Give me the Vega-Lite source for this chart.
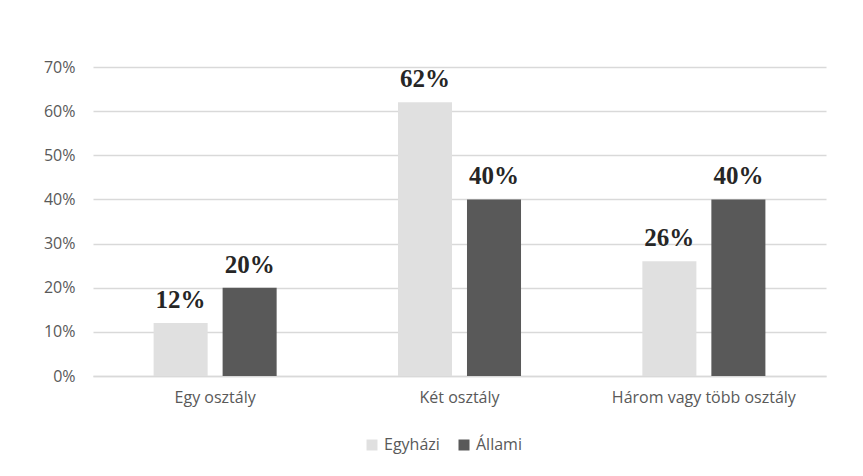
{
  "$schema": "https://vega.github.io/schema/vega-lite/v6.json",
  "autosize": {"type": "none"},
  "width": 733,
  "height": 309,
  "padding": {"left": 93, "top": 67, "right": 37, "bottom": 100},
  "background": "white",
  "data": {
    "values": [
      {"kategoria": "Egy osztály", "tipus": "Egyházi", "arany": 0.12},
      {"kategoria": "Egy osztály", "tipus": "Állami", "arany": 0.20},
      {"kategoria": "Két osztály", "tipus": "Egyházi", "arany": 0.62},
      {"kategoria": "Két osztály", "tipus": "Állami", "arany": 0.40},
      {"kategoria": "Három vagy több osztály", "tipus": "Egyházi", "arany": 0.26},
      {"kategoria": "Három vagy több osztály", "tipus": "Állami", "arany": 0.40}
    ]
  },
  "encoding": {
    "x": {
      "field": "kategoria",
      "type": "nominal",
      "sort": ["Egy osztály", "Két osztály", "Három vagy több osztály"],
      "scale": {"paddingInner": 0.4965, "paddingOuter": 0.248},
      "axis": {
        "title": null,
        "labelAngle": 0,
        "labelPadding": 13,
        "labelLimit": 400,
        "ticks": false,
        "domain": true,
        "domainColor": "#d9d9d9",
        "domainWidth": 1.5
      }
    },
    "xOffset": {
      "field": "tipus",
      "type": "nominal",
      "sort": ["Egyházi", "Állami"],
      "scale": {"paddingInner": 0.217, "paddingOuter": 0}
    },
    "y": {
      "field": "arany",
      "type": "quantitative",
      "scale": {"domain": [0, 0.7], "nice": false},
      "axis": {
        "title": null,
        "format": ".0%",
        "values": [0, 0.1, 0.2, 0.3, 0.4, 0.5, 0.6, 0.7],
        "labelOverlap": false,
        "labelPadding": 18,
        "ticks": false,
        "domain": false,
        "grid": true,
        "gridColor": "#d9d9d9",
        "gridWidth": 1.5
      }
    }
  },
  "layer": [
    {
      "mark": {"type": "bar"},
      "encoding": {
        "color": {
          "field": "tipus",
          "type": "nominal",
          "sort": ["Egyházi", "Állami"],
          "scale": {"domain": ["Egyházi", "Állami"], "range": ["#e0e0e0", "#595959"]},
          "legend": {
            "title": null,
            "orient": "none",
            "legendX": 271,
            "legendY": 370,
            "direction": "horizontal",
            "symbolType": "square",
            "symbolSize": 121,
            "symbolStrokeWidth": 0,
            "columnPadding": 16
          }
        }
      }
    },
    {
      "mark": {
        "type": "text",
        "font": "Liberation Serif",
        "fontWeight": "bold",
        "fontSize": 25,
        "color": "#262626",
        "baseline": "alphabetic",
        "dy": -15
      },
      "encoding": {
        "text": {"field": "arany", "type": "quantitative", "format": ".0%"}
      }
    }
  ],
  "config": {
    "view": {"stroke": null},
    "axis": {
      "labelFont": "Open Sans",
      "labelFontSize": 16,
      "labelColor": "#595959"
    },
    "legend": {
      "labelFont": "Open Sans",
      "labelFontSize": 16,
      "labelColor": "#595959"
    }
  }
}
